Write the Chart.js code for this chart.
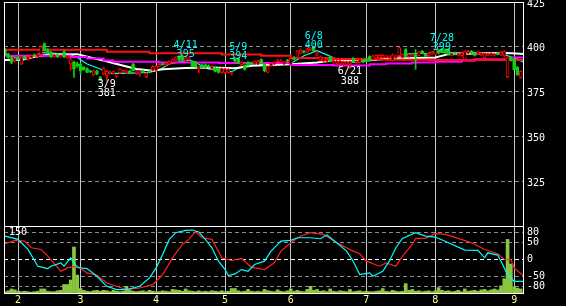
<!DOCTYPE html>
<html>
<head>
<meta charset="utf-8">
<title>Stock chart</title>
<script src="https://cdn.jsdelivr.net/npm/chart.js"></script>
<style>
    body { margin: 0; background: #000; width: 566px; height: 306px; overflow: hidden; }
    .wrap { position: relative; width: 566px; height: 306px; }
    #priceChart { position: absolute; left: 0; top: 0; }
    #oscChart { position: absolute; left: 0; top: 226px; }
</style>
</head>
<body>
<div class="wrap">
    <canvas id="priceChart" width="566" height="227"></canvas>
    <canvas id="oscChart" width="566" height="80"></canvas>
</div>
<script>
// month boundaries (bar index) and their labels
const monthIdx = [4, 23, 46, 67, 87, 110, 131, 155];
const monthLabels = ['2', '3', '4', '5', '6', '7', '8', '9'];
const priceTicks = [300, 325, 350, 375, 400, 425];
const oscTicks = [80, 50, 0, -50, -80];

// daily candles [open, high, low, close]
const candles = [
    [398.7,399,395.5,395.9],[395.7,396.5,393.5,394.1],[394,394.5,390.5,391.3],[392,393.8,391.5,393.2],
    [393.8,394.5,392.5,393],[390.5,394.5,390,394],[394.5,395,393,393.5],[393,394.6,392.5,394.3],
    [394,395.5,393.8,395],[395.5,396,394.5,395],[394.8,396.2,394.5,395.8],[395.7,400.5,395.5,400],
    [401.8,402.2,397.5,397.8],[398.5,399,396.5,396.8],[397,397.5,394,394.3],[394.3,395.8,394,395.5],
    [395.7,396.2,394,394.3],[394.3,395.5,394,395],[397.4,398,394,394.3],[394,395.2,393.5,394.8],
    [390.4,393.5,387,393.1],[391.3,392,382.9,387.6],[390.5,391.5,388.5,389.2],[390.4,391,384.8,386.7],
    [388.5,389,387,387.3],[387.8,388.2,385.5,385.7],[386.5,387,385.5,386],[384.4,387,384,386.7],
    [386.3,386.8,384.5,385],[382.8,383.5,381.2,381.3],[384.8,388.5,384.5,388.2],[384,386.8,381,386.3],
    [385.5,386.5,384.8,386],[385,386.5,384.5,386.2],[383.6,384.5,382.8,383.8],[385.5,387.8,385,387.4],
    [386,387.2,385.5,386.8],[385.5,387,385,386.5],[386.5,387,385,385.3],[390.4,390.8,386.5,386.7],
    [385.5,386.8,384.5,386.2],[385.5,386.5,383.5,386],[386.5,387,385.5,385.9],[383.3,385.5,382.8,385.2],
    [386.3,386.8,385.5,385.7],[386.8,389.5,386.5,389.1],[386.8,389.5,386.3,389.2],[389,390.6,388.8,390.2],
    [390.5,391,389.8,390],[390,391.2,389.5,390.8],[390.5,392.2,390,391.8],[391.4,393.3,391,392.9],
    [392.5,394.5,392,394],[394.6,395,392,392.4],[395,395.5,392.2,392.6],[392.4,395,392,393.9],
    [392.8,394.2,392.5,393.8],[391.3,392,388.8,389],[391.5,392,388.5,388.8],[387.8,388.8,385.5,388.5],
    [389.9,390.3,388.2,388.5],[390,390.5,388,388.3],[389.5,390,388.5,389],[388,389.5,387.5,389],
    [388,388.5,386,386.3],[387.9,388.3,385.3,385.7],[385.7,388.2,385.2,387.9],[385.5,388,385,387.5],
    [385.7,387.8,385.2,387.4],[384.8,385.8,384.2,385.2],[393.5,394,391.5,392],[393.3,394,390.5,391],
    [390,392,389.5,391.5],[389.6,390,387,387.4],[391.3,391.8,389.2,389.6],[391,391.5,390,390.3],
    [390.5,392.2,390.2,391.8],[390.4,392.4,390,391.9],[392.9,393.3,390.5,391],[390.2,390.6,386,386.5],
    [385.8,389.4,385.5,389],[389.5,391,389,390.8],[390.5,392,390,391.5],[391.8,393,391.5,392.6],
    [391.5,392.8,391,392.2],[390.5,392,390,391.6],[392.5,393,391.5,392],[390.2,393.8,390,393.5],
    [393.9,394.5,392.8,393],[394.1,398,393.5,397.7],[396.3,398.8,396,398.2],[397.5,398,396.5,397],
    [397.2,399.2,396.8,398.8],[398.3,399.6,397.8,399.3],[400,400.4,397.5,397.8],[395.5,397.5,395,397],
    [392.6,395,392,394.6],[392,394,391.5,393.8],[392,393.5,391.5,393.2],[394.2,394.8,391.5,391.8],
    [391.5,392.5,391,392.2],[390.7,392.4,390.2,392],[390.5,392.5,390,392],[390.8,392,389,391.8],
    [390.3,392,390,391.6],[390.5,392,388,391.8],[393.5,394,391.5,391.8],[391,392.3,390.8,392],
    [391.2,393.3,391,392.9],[392.5,393,391,391.5],[393,393.5,391.5,392],[394.6,395,391.8,392],
    [393,395.2,392.5,394.8],[393.5,395.5,393,395.2],[393.8,395.5,393.5,395.2],[394,395.5,393.5,395.2],
    [394,395.3,393.8,395],[393.8,395,393.5,394.6],[392.4,396,392,395.5],[394,395.2,393.5,394.8],
    [395,399.8,394.8,399.5],[394.1,396.2,393.8,395.7],[398.5,399,394.2,394.6],[394.6,395.8,394.2,395.5],
    [395,396,394.5,395.5],[395.5,398.5,387.4,394.5],[395.2,397.5,395,397],[397.5,398,396,396.3],
    [395.8,396.3,394.5,394.8],[395,396.8,394.5,396.3],[396,397.5,395.5,397],[395.9,399,395.5,398.7],
    [398.3,398.6,396,396.5],[398.5,399,396.8,397],[398.5,398.8,396.5,396.7],[398.6,398.9,395.5,395.8],
    [395.5,396.5,395.2,396.2],[396.5,397,395.6,396],[395.2,396.6,394.8,396.2],[395,397,394.5,396.5],
    [392.9,397.8,392.5,397.4],[396.5,398,396,397.4],[397.5,398,396,396.3],[396.3,396.8,394.8,395.2],
    [396,397.6,395.5,397.2],[395.5,396.8,395,396.5],[394,396.6,393.5,396.3],[395.2,396.5,395,396.2],
    [395.5,396.6,395.2,396.3],[395.2,396.4,394.8,396],[396.5,397,395.5,395.8],[395.5,397.5,395,397],
    [395,397.8,394.5,397.4],[383.3,394.5,382.8,394],[394,394.5,392,392.5],[392.9,393.5,387,387.2],
    [388.5,389,384,384.5],[382.9,386.5,382.5,386.3]
];

// volume per day
const volume = [
    3,5,9,7,4,3,4,3,2,3,4,9,9,4,3,3,5,6,19,19,29,103,40,10,6,4,3,5,6,4,
    6,5,3,6,4,3,4,15,6,4,3,4,5,3,6,4,3,3,5,4,3,8,7,6,4,9,5,4,3,5,
    3,4,3,5,4,3,5,3,4,10,10,5,3,4,8,4,3,4,3,8,5,4,3,7,4,3,5,9,4,6,
    4,3,8,15,6,8,4,5,3,9,4,3,5,4,3,8,3,4,5,3,4,3,3,4,5,10,4,3,6,4,
    3,4,21,6,8,4,5,3,4,5,3,5,12,6,4,5,3,4,6,3,9,4,5,6,4,7,8,5,7,9,
    7,16,32,120,65,14,11,9
];

// moving averages: [bar index, price]
const maShort = [[0,395.9],[4,393.6],[9,394.4],[11,396.8],[19,395.9],[22,394],[25,390.4],[29,387.6],
    [32,385.2],[36,385.2],[44,385.7],[47,387.2],[50,390.4],[56,392.6],[58,391.5],[60,389],[62,387.6],
    [65,386.7],[69,386.1],[71,388],[74,389.6],[79,390.2],[87,390.7],[91,395],[95,397.8],[101,393.1],
    [106,391.3],[111,392.2],[116,393.7],[121,394.6],[123,396],[129,396.4],[131,397.4],[135,396.8],
    [139,396.8],[151,396.3],[153,395],[156,393.1],[158,391.3]];
const maMid = [[0,392.6],[5,392.6],[9,394.4],[13,395.6],[22,395.9],[26,394],[30,392.4],[34,390.4],
    [40,387.6],[45,386.7],[48,387.5],[55,388.2],[63,388.5],[70,388],[75,389.4],[87,390.3],[95,391.3],
    [99,392.2],[111,392.6],[118,393.5],[131,394],[135,395.9],[147,396.4],[153,396.5],[158,396]];
const maLong = [[0,395],[20,394.3],[25,393.5],[30,392.4],[33,391.7],[47,391.2],[65,390.9],[87,389.8],
    [100,389.5],[111,390.2],[116,390.7],[124,391.2],[131,391.7],[139,392.2],[143,393.1],[154,394],
    [158,394]];
const maWeek = [[0,398.3],[31,397.2],[44,396.4],[66,395.7],[78,395],[87,393.8],[100,393.2],[114,392.8],
    [129,392.6],[158,392.6]];

// oscillators (lower panel)
const oscFast = [[0,70],[4,60],[7,30],[10,-20],[13,-27],[14,-20],[17,-10],[18,-20],[20,5],[22,-24],
    [25,-27],[28,-50],[31,-80],[34,-90],[37,-90],[41,-80],[44,-55],[46,-25],[48,15],[50,60],[52,80],
    [55,87],[57,88],[59,82],[61,60],[63,35],[65,-5],[67,-30],[68,-48],[70,-43],[72,-30],[74,-35],
    [76,-15],[79,-5],[81,25],[84,55],[87,57],[89,65],[93,65],[96,62],[98,73],[101,50],[104,25],
    [106,-5],[108,-45],[111,-40],[112,-50],[115,-35],[117,-5],[119,35],[121,63],[125,80],[128,70],
    [131,67],[135,50],[140,28],[144,27],[146,5],[147,20],[150,13],[151,-5],[153,-45],[155,-65],[158,-65]];
const oscSlow = [[0,47],[3,57],[6,55],[8,35],[11,30],[13,10],[17,-35],[19,-25],[22,-20],[25,-40],
    [28,-47],[31,-70],[34,-80],[37,-90],[41,-85],[45,-75],[48,-45],[51,5],[54,45],[56,60],[58,83],
    [60,65],[63,60],[66,5],[69,-3],[72,3],[75,-23],[79,-30],[82,-10],[84,25],[87,50],[90,70],[93,80],
    [97,75],[101,50],[106,25],[108,17],[110,-5],[114,-20],[116,-10],[119,-20],[121,10],[124,45],
    [125,63],[128,63],[131,77],[134,75],[138,63],[142,50],[146,30],[150,17],[152,0],[154,0],
    [155,-25],[158,-50]];

// high / low notes
const notes = [
    { i: 31, price: 381, date: '3/9', side: 'low' },
    { i: 55, price: 395, date: '4/11', side: 'high' },
    { i: 71, price: 394, date: '5/9', side: 'high' },
    { i: 94, price: 400, date: '6/8', side: 'high' },
    { i: 105, price: 388, date: '6/21', side: 'low' },
    { i: 133, price: 399, date: '7/28', side: 'high' }
];

const MONO = { family: 'DejaVu Sans Mono', size: 10 };
const UP = '#ff0000', DOWN = '#10d010';
const isUp = i => candles[i][3] >= candles[i][0];

function noPad(a) {
    a.paddingTop = 0; a.paddingBottom = 0; a.paddingLeft = 0; a.paddingRight = 0;
}

function xAxis(showLabels) {
    return {
        type: 'linear', min: -0.3, max: 158, offset: false,
        afterBuildTicks: a => { a.ticks = monthIdx.map(v => ({ value: v })); },
        ticks: {
            display: showLabels, autoSkip: false, maxRotation: 0, padding: 1,
            color: '#ffff99', font: MONO,
            callback: v => monthLabels[monthIdx.indexOf(v)]
        },
        grid: { color: '#c8c8c8', lineWidth: 1, drawTicks: false, offset: false },
        border: { display: false },
        afterFit: a => { a.height = showLabels ? 13 : 0; noPad(a); }
    };
}

const framePlugin = {
    id: 'frame',
    afterDraw(chart) {
        const { ctx, chartArea: a } = chart;
        ctx.save();
        ctx.strokeStyle = '#ffffff';
        ctx.lineWidth = 1;
        ctx.strokeRect(a.left + 0.5, a.top + 0.5, a.right - a.left - 1, a.bottom - a.top);
        ctx.restore();
    }
};

const notePlugin = {
    id: 'notes',
    afterDatasetsDraw(chart) {
        const { ctx, scales } = chart;
        ctx.save();
        ctx.font = '10px "DejaVu Sans Mono"';
        ctx.textAlign = 'center';
        ctx.textBaseline = 'middle';
        notes.forEach(n => {
            const x = scales.x.getPixelForValue(n.i);
            const y = scales.y.getPixelForValue(n.price);
            if (n.side === 'high') {
                ctx.fillStyle = '#00ffff';
                ctx.fillText(n.date, x, y - 10.5);
                ctx.fillText(String(n.price), x, y - 1.5);
            } else {
                ctx.fillStyle = '#ffffff';
                ctx.fillText(n.date, x, y + 3.5);
                ctx.fillText(String(n.price), x, y + 13);
            }
        });
        ctx.restore();
    }
};

function lineSet(data, color, width, stepped) {
    return {
        type: 'line', data: data, borderColor: color, borderWidth: width,
        pointRadius: 0, tension: 0, stepped: stepped || false, order: 5
    };
}

const priceChart = new Chart(document.getElementById('priceChart'), {
    type: 'bar',
    data: {
        datasets: [
            lineSet(maWeek, '#ff1010', 2, 'before'),
            lineSet(maLong, '#ff00ff', 2, 'before'),
            lineSet(maMid, '#ffffff', 2),
            lineSet(maShort, '#00ffff', 1.2),
            {
                data: candles.map((c, i) => ({ x: i, y: [c[2], c[1]] })),
                grouped: false, barThickness: 1, borderWidth: 0, order: 2,
                backgroundColor: ctx => isUp(ctx.dataIndex) ? UP : DOWN
            },
            {
                data: candles.map((c, i) => ({ x: i, y: [c[0], c[3]] })),
                grouped: false, barThickness: 3, borderWidth: 1, borderSkipped: false,
                minBarLength: 1, order: 1,
                backgroundColor: ctx => isUp(ctx.dataIndex) ? '#000000' : DOWN,
                borderColor: ctx => isUp(ctx.dataIndex) ? UP : DOWN
            }
        ]
    },
    options: {
        responsive: false, animation: false, events: [],
        layout: { padding: { left: 4, top: 2, right: 0, bottom: 1 } },
        plugins: { legend: { display: false }, tooltip: { enabled: false } },
        scales: {
            x: xAxis(false),
            y: {
                type: 'linear', position: 'right', min: 300, max: 425,
                afterBuildTicks: a => { a.ticks = priceTicks.map(v => ({ value: v })); },
                ticks: {
                    color: '#ffffff', font: MONO, padding: 3, autoSkip: false, labelOffset: 2,
                    callback: v => v === 300 ? '' : String(v)
                },
                grid: {
                    drawTicks: false,
                    color: c => (c.tick && (c.tick.value === 300 || c.tick.value === 425)) ? 'rgba(0,0,0,0)' : '#8c8c8c'
                },
                border: { display: false, dash: [4, 3] },
                afterFit: a => { a.width = 42; noPad(a); }
            }
        }
    },
    plugins: [framePlugin, notePlugin]
});

const oscChart = new Chart(document.getElementById('oscChart'), {
    type: 'bar',
    data: {
        datasets: [
            {
                type: 'line', data: oscSlow, borderColor: '#ff2020', borderWidth: 1.2,
                pointRadius: 0, tension: 0, yAxisID: 'y', order: 1
            },
            {
                type: 'line', data: oscFast, borderColor: '#00ffff', borderWidth: 1.2,
                pointRadius: 0, tension: 0, yAxisID: 'y', order: 0
            },
            {
                data: volume.map((v, i) => ({ x: i, y: v })),
                yAxisID: 'yv', barThickness: 3, borderWidth: 0, order: 3,
                backgroundColor: '#8cc63f'
            }
        ]
    },
    options: {
        responsive: false, animation: false, events: [],
        layout: { padding: 0 },
        plugins: { legend: { display: false }, tooltip: { enabled: false } },
        scales: {
            x: xAxis(true),
            y: {
                type: 'linear', position: 'right', min: -100, max: 100,
                afterBuildTicks: a => { a.ticks = oscTicks.map(v => ({ value: v })); },
                ticks: { color: '#ffffff', font: MONO, padding: 3, autoSkip: false, callback: v => String(v) },
                grid: {
                    drawTicks: false,
                    color: c => (c.tick && c.tick.value === 0) ? '#ffffff' : '#8c8c8c'
                },
                border: { display: false, dash: [4, 3] },
                afterFit: a => { a.width = 42; noPad(a); }
            },
            yv: {
                type: 'linear', position: 'left', min: 0, max: 150,
                afterBuildTicks: a => { a.ticks = [{ value: 150 }]; },
                ticks: { mirror: true, color: '#ffffff', font: MONO, padding: 5, labelOffset: 6, callback: v => String(v) },
                grid: { display: false },
                border: { display: false },
                afterFit: a => { a.width = 4; noPad(a); }
            }
        }
    },
    plugins: [framePlugin]
});
</script>
</body>
</html>
